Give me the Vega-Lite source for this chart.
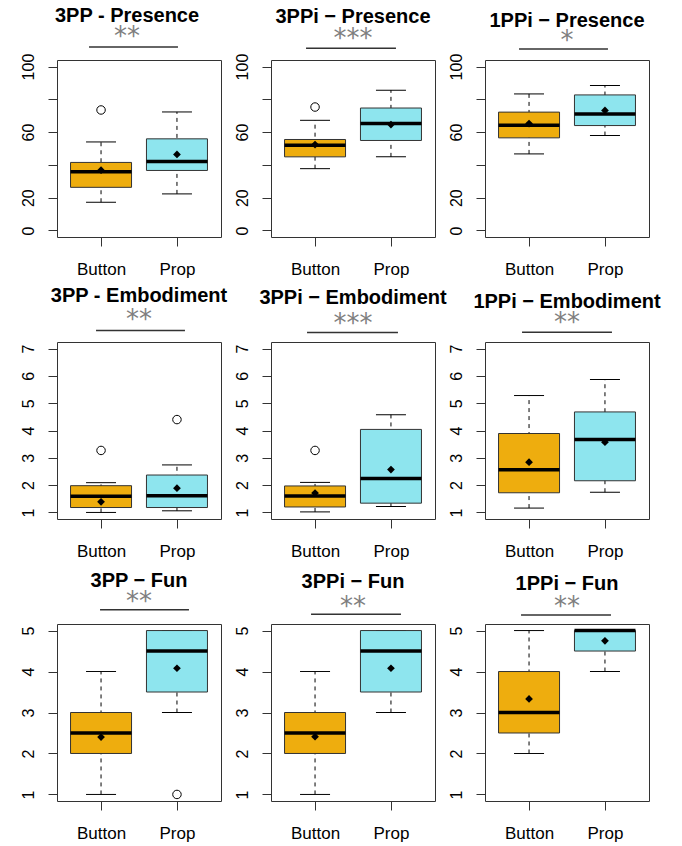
{
"$schema": "https://vega.github.io/schema/vega-lite/v6.json",
"background": "white",
"padding": {"left": 19, "top": 5, "right": 5, "bottom": 5},
"datasets": {"d": [
{"kind":"box","panel":"P1","group":"Button","lo":17.2,"q1":26.3,"med":35.8,"q3":41.5,"hi":54.0,"mean":36.8},
{"kind":"box","panel":"P1","group":"Prop","lo":22.3,"q1":36.6,"med":42.1,"q3":55.9,"hi":72.3,"mean":46.4},
{"kind":"out","panel":"P1","group":"Button","value":73.5},
{"kind":"sig","panel":"P1","g1":"Button","g2":"Prop"},
{"kind":"box","panel":"P2","group":"Button","lo":37.7,"q1":44.9,"med":52.0,"q3":55.5,"hi":67.2,"mean":52.4},
{"kind":"box","panel":"P2","group":"Prop","lo":44.9,"q1":54.9,"med":65.2,"q3":74.7,"hi":85.6,"mean":64.6},
{"kind":"out","panel":"P2","group":"Button","value":75.3},
{"kind":"sig","panel":"P2","g1":"Button","g2":"Prop"},
{"kind":"box","panel":"P3","group":"Button","lo":46.7,"q1":56.5,"med":64.2,"q3":72.2,"hi":83.3,"mean":65.2},
{"kind":"box","panel":"P3","group":"Prop","lo":57.9,"q1":64.0,"med":71.1,"q3":82.7,"hi":88.4,"mean":73.2},
{"kind":"sig","panel":"P3","g1":"Button","g2":"Prop"},
{"kind":"box","panel":"P4","group":"Button","lo":1.0,"q1":1.18,"med":1.59,"q3":1.98,"hi":2.09,"mean":1.39},
{"kind":"box","panel":"P4","group":"Prop","lo":1.06,"q1":1.18,"med":1.61,"q3":2.37,"hi":2.74,"mean":1.89},
{"kind":"out","panel":"P4","group":"Button","value":3.27},
{"kind":"out","panel":"P4","group":"Prop","value":4.40},
{"kind":"sig","panel":"P4","g1":"Button","g2":"Prop"},
{"kind":"box","panel":"P5","group":"Button","lo":1.02,"q1":1.2,"med":1.6,"q3":1.97,"hi":2.1,"mean":1.71},
{"kind":"box","panel":"P5","group":"Prop","lo":1.22,"q1":1.34,"med":2.24,"q3":4.04,"hi":4.58,"mean":2.57},
{"kind":"out","panel":"P5","group":"Button","value":3.27},
{"kind":"sig","panel":"P5","g1":"Button","g2":"Prop"},
{"kind":"box","panel":"P6","group":"Button","lo":1.16,"q1":1.72,"med":2.56,"q3":3.89,"hi":5.28,"mean":2.84},
{"kind":"box","panel":"P6","group":"Prop","lo":1.74,"q1":2.16,"med":3.67,"q3":4.68,"hi":5.87,"mean":3.57},
{"kind":"sig","panel":"P6","g1":"Button","g2":"Prop"},
{"kind":"box","panel":"P7","group":"Button","lo":1,"q1":2,"med":2.5,"q3":3,"hi":4,"mean":2.4},
{"kind":"box","panel":"P7","group":"Prop","lo":3,"q1":3.5,"med":4.5,"q3":5,"hi":5,"mean":4.08},
{"kind":"out","panel":"P7","group":"Prop","value":1},
{"kind":"sig","panel":"P7","g1":"Button","g2":"Prop"},
{"kind":"box","panel":"P8","group":"Button","lo":1,"q1":2,"med":2.5,"q3":3,"hi":4,"mean":2.41},
{"kind":"box","panel":"P8","group":"Prop","lo":3,"q1":3.5,"med":4.5,"q3":5,"hi":5,"mean":4.08},
{"kind":"sig","panel":"P8","g1":"Button","g2":"Prop"},
{"kind":"box","panel":"P9","group":"Button","lo":2,"q1":2.5,"med":3,"q3":4,"hi":5,"mean":3.33},
{"kind":"box","panel":"P9","group":"Prop","lo":4,"q1":4.5,"med":5,"q3":5,"hi":5,"mean":4.75},
{"kind":"sig","panel":"P9","g1":"Button","g2":"Prop"}
]},
"data": {"name": "d"},
"columns": 3,
"spacing": {"row": 105, "column": 50},
"bounds": "flush",
"concat": [
{"width":164,"height":177,
 "title":{"text":"3PP - Presence","subtitle":"**","dx":-12,"offset":-4,"subtitlePadding":-2},
 "transform":[{"filter":"datum.panel==='P1'"}],
 "encoding":{"x":{"field":"group","type":"nominal","scale":{"type":"point","domain":["Button","Prop"],"padding":0.58},"axis":{"title":null}}},
 "layer":[
  {"transform":[{"filter":"datum.kind==='box'"}],"mark":{"type":"rule","strokeDash":[4,4],"color":"black"},"encoding":{"y":{"field":"lo","type":"quantitative","scale":{"domain":[-4,104],"nice":false,"zero":false},"axis":{"title":null,"format":"d","labelOverlap":false,"tickCount":12,"values":[0,20,40,60,80,100],"labelExpr":"datum.value==40||datum.value==80?'':datum.label"}},"y2":{"field":"hi"}}},
  {"transform":[{"filter":"datum.kind==='box'"}],"mark":{"type":"tick","size":30,"thickness":1,"color":"black","opacity":1},"encoding":{"y":{"field":"lo","type":"quantitative","title":null}}},
  {"transform":[{"filter":"datum.kind==='box'"}],"mark":{"type":"tick","size":30,"thickness":1,"color":"black","opacity":1},"encoding":{"y":{"field":"hi","type":"quantitative","title":null}}},
  {"transform":[{"filter":"datum.kind==='box'"}],"mark":{"type":"bar","size":61,"stroke":"#333","strokeWidth":1,"opacity":1},"encoding":{"y":{"field":"q1","type":"quantitative","title":null},"y2":{"field":"q3"},"fill":{"field":"group","type":"nominal","scale":{"domain":["Button","Prop"],"range":["#EEAD0E","#8EE5EE"]},"legend":null}}},
  {"transform":[{"filter":"datum.kind==='box'"}],"mark":{"type":"tick","size":61,"thickness":3.5,"color":"black","opacity":1},"encoding":{"y":{"field":"med","type":"quantitative","title":null}}},
  {"transform":[{"filter":"datum.kind==='box'"}],"mark":{"type":"point","shape":"diamond","filled":true,"size":60,"color":"black","opacity":1},"encoding":{"y":{"field":"mean","type":"quantitative","title":null}}},
  {"transform":[{"filter":"datum.kind==='out'"}],"mark":{"type":"point","shape":"circle","filled":false,"size":72,"color":"black","strokeWidth":1,"opacity":1},"encoding":{"y":{"field":"value","type":"quantitative","title":null}}},
  {"transform":[{"filter":"datum.kind==='sig'"}],"mark":{"type":"rule","color":"#333","strokeWidth":1.5,"xOffset":-12,"x2Offset":1},"encoding":{"x":{"field":"g1","type":"nominal","title":null},"x2":{"field":"g2"},"y":{"datum":111.9}}}
 ]},
{"width":164,"height":177,
 "title":{"text":"3PPi − Presence","subtitle":"***","offset":-4,"subtitlePadding":-1},
 "transform":[{"filter":"datum.panel==='P2'"}],
 "encoding":{"x":{"field":"group","type":"nominal","scale":{"type":"point","domain":["Button","Prop"],"padding":0.58},"axis":{"title":null}}},
 "layer":[
  {"transform":[{"filter":"datum.kind==='box'"}],"mark":{"type":"rule","strokeDash":[4,4],"color":"black"},"encoding":{"y":{"field":"lo","type":"quantitative","scale":{"domain":[-4,104],"nice":false,"zero":false},"axis":{"title":null,"format":"d","labelOverlap":false,"tickCount":12,"values":[0,20,40,60,80,100],"labelExpr":"datum.value==40||datum.value==80?'':datum.label"}},"y2":{"field":"hi"}}},
  {"transform":[{"filter":"datum.kind==='box'"}],"mark":{"type":"tick","size":30,"thickness":1,"color":"black","opacity":1},"encoding":{"y":{"field":"lo","type":"quantitative","title":null}}},
  {"transform":[{"filter":"datum.kind==='box'"}],"mark":{"type":"tick","size":30,"thickness":1,"color":"black","opacity":1},"encoding":{"y":{"field":"hi","type":"quantitative","title":null}}},
  {"transform":[{"filter":"datum.kind==='box'"}],"mark":{"type":"bar","size":61,"stroke":"#333","strokeWidth":1,"opacity":1},"encoding":{"y":{"field":"q1","type":"quantitative","title":null},"y2":{"field":"q3"},"fill":{"field":"group","type":"nominal","scale":{"domain":["Button","Prop"],"range":["#EEAD0E","#8EE5EE"]},"legend":null}}},
  {"transform":[{"filter":"datum.kind==='box'"}],"mark":{"type":"tick","size":61,"thickness":3.5,"color":"black","opacity":1},"encoding":{"y":{"field":"med","type":"quantitative","title":null}}},
  {"transform":[{"filter":"datum.kind==='box'"}],"mark":{"type":"point","shape":"diamond","filled":true,"size":60,"color":"black","opacity":1},"encoding":{"y":{"field":"mean","type":"quantitative","title":null}}},
  {"transform":[{"filter":"datum.kind==='out'"}],"mark":{"type":"point","shape":"circle","filled":false,"size":72,"color":"black","strokeWidth":1,"opacity":1},"encoding":{"y":{"field":"value","type":"quantitative","title":null}}},
  {"transform":[{"filter":"datum.kind==='sig'"}],"mark":{"type":"rule","color":"#333","strokeWidth":1.5,"xOffset":-9,"x2Offset":5},"encoding":{"x":{"field":"g1","type":"nominal","title":null},"x2":{"field":"g2"},"y":{"datum":111.1}}}
 ]},
{"width":164,"height":177,
 "title":{"text":"1PPi − Presence","subtitle":"*","offset":-6,"subtitlePadding":-3},
 "transform":[{"filter":"datum.panel==='P3'"}],
 "encoding":{"x":{"field":"group","type":"nominal","scale":{"type":"point","domain":["Button","Prop"],"padding":0.58},"axis":{"title":null}}},
 "layer":[
  {"transform":[{"filter":"datum.kind==='box'"}],"mark":{"type":"rule","strokeDash":[4,4],"color":"black"},"encoding":{"y":{"field":"lo","type":"quantitative","scale":{"domain":[-4,104],"nice":false,"zero":false},"axis":{"title":null,"format":"d","labelOverlap":false,"tickCount":12,"values":[0,20,40,60,80,100],"labelExpr":"datum.value==40||datum.value==80?'':datum.label"}},"y2":{"field":"hi"}}},
  {"transform":[{"filter":"datum.kind==='box'"}],"mark":{"type":"tick","size":30,"thickness":1,"color":"black","opacity":1},"encoding":{"y":{"field":"lo","type":"quantitative","title":null}}},
  {"transform":[{"filter":"datum.kind==='box'"}],"mark":{"type":"tick","size":30,"thickness":1,"color":"black","opacity":1},"encoding":{"y":{"field":"hi","type":"quantitative","title":null}}},
  {"transform":[{"filter":"datum.kind==='box'"}],"mark":{"type":"bar","size":61,"stroke":"#333","strokeWidth":1,"opacity":1},"encoding":{"y":{"field":"q1","type":"quantitative","title":null},"y2":{"field":"q3"},"fill":{"field":"group","type":"nominal","scale":{"domain":["Button","Prop"],"range":["#EEAD0E","#8EE5EE"]},"legend":null}}},
  {"transform":[{"filter":"datum.kind==='box'"}],"mark":{"type":"tick","size":61,"thickness":3.5,"color":"black","opacity":1},"encoding":{"y":{"field":"med","type":"quantitative","title":null}}},
  {"transform":[{"filter":"datum.kind==='box'"}],"mark":{"type":"point","shape":"diamond","filled":true,"size":60,"color":"black","opacity":1},"encoding":{"y":{"field":"mean","type":"quantitative","title":null}}},
  {"transform":[{"filter":"datum.kind==='sig'"}],"mark":{"type":"rule","color":"#333","strokeWidth":1.5,"xOffset":-10,"x2Offset":3},"encoding":{"x":{"field":"g1","type":"nominal","title":null},"x2":{"field":"g2"},"y":{"datum":110.7}}}
 ]},
{"width":164,"height":177,
 "title":{"text":"3PP - Embodiment","subtitle":"**","offset":-3,"subtitlePadding":1},
 "transform":[{"filter":"datum.panel==='P4'"}],
 "encoding":{"x":{"field":"group","type":"nominal","scale":{"type":"point","domain":["Button","Prop"],"padding":0.58},"axis":{"title":null}}},
 "layer":[
  {"transform":[{"filter":"datum.kind==='box'"}],"mark":{"type":"rule","strokeDash":[4,4],"color":"black"},"encoding":{"y":{"field":"lo","type":"quantitative","scale":{"domain":[0.76,7.24],"nice":false,"zero":false},"axis":{"title":null,"format":"d","labelOverlap":false,"tickCount":12,"values":[1,2,3,4,5,6,7]}},"y2":{"field":"hi"}}},
  {"transform":[{"filter":"datum.kind==='box'"}],"mark":{"type":"tick","size":30,"thickness":1,"color":"black","opacity":1},"encoding":{"y":{"field":"lo","type":"quantitative","title":null}}},
  {"transform":[{"filter":"datum.kind==='box'"}],"mark":{"type":"tick","size":30,"thickness":1,"color":"black","opacity":1},"encoding":{"y":{"field":"hi","type":"quantitative","title":null}}},
  {"transform":[{"filter":"datum.kind==='box'"}],"mark":{"type":"bar","size":61,"stroke":"#333","strokeWidth":1,"opacity":1},"encoding":{"y":{"field":"q1","type":"quantitative","title":null},"y2":{"field":"q3"},"fill":{"field":"group","type":"nominal","scale":{"domain":["Button","Prop"],"range":["#EEAD0E","#8EE5EE"]},"legend":null}}},
  {"transform":[{"filter":"datum.kind==='box'"}],"mark":{"type":"tick","size":61,"thickness":3.5,"color":"black","opacity":1},"encoding":{"y":{"field":"med","type":"quantitative","title":null}}},
  {"transform":[{"filter":"datum.kind==='box'"}],"mark":{"type":"point","shape":"diamond","filled":true,"size":60,"color":"black","opacity":1},"encoding":{"y":{"field":"mean","type":"quantitative","title":null}}},
  {"transform":[{"filter":"datum.kind==='out'"}],"mark":{"type":"point","shape":"circle","filled":false,"size":72,"color":"black","strokeWidth":1,"opacity":1},"encoding":{"y":{"field":"value","type":"quantitative","title":null}}},
  {"transform":[{"filter":"datum.kind==='sig'"}],"mark":{"type":"rule","color":"#333","strokeWidth":1.5,"xOffset":-5,"x2Offset":8},"encoding":{"x":{"field":"g1","type":"nominal","title":null},"x2":{"field":"g2"},"y":{"datum":7.66}}}
 ]},
{"width":164,"height":177,
 "title":{"text":"3PPi − Embodiment","subtitle":"***","offset":-5,"subtitlePadding":3},
 "transform":[{"filter":"datum.panel==='P5'"}],
 "encoding":{"x":{"field":"group","type":"nominal","scale":{"type":"point","domain":["Button","Prop"],"padding":0.58},"axis":{"title":null}}},
 "layer":[
  {"transform":[{"filter":"datum.kind==='box'"}],"mark":{"type":"rule","strokeDash":[4,4],"color":"black"},"encoding":{"y":{"field":"lo","type":"quantitative","scale":{"domain":[0.76,7.24],"nice":false,"zero":false},"axis":{"title":null,"format":"d","labelOverlap":false,"tickCount":12,"values":[1,2,3,4,5,6,7]}},"y2":{"field":"hi"}}},
  {"transform":[{"filter":"datum.kind==='box'"}],"mark":{"type":"tick","size":30,"thickness":1,"color":"black","opacity":1},"encoding":{"y":{"field":"lo","type":"quantitative","title":null}}},
  {"transform":[{"filter":"datum.kind==='box'"}],"mark":{"type":"tick","size":30,"thickness":1,"color":"black","opacity":1},"encoding":{"y":{"field":"hi","type":"quantitative","title":null}}},
  {"transform":[{"filter":"datum.kind==='box'"}],"mark":{"type":"bar","size":61,"stroke":"#333","strokeWidth":1,"opacity":1},"encoding":{"y":{"field":"q1","type":"quantitative","title":null},"y2":{"field":"q3"},"fill":{"field":"group","type":"nominal","scale":{"domain":["Button","Prop"],"range":["#EEAD0E","#8EE5EE"]},"legend":null}}},
  {"transform":[{"filter":"datum.kind==='box'"}],"mark":{"type":"tick","size":61,"thickness":3.5,"color":"black","opacity":1},"encoding":{"y":{"field":"med","type":"quantitative","title":null}}},
  {"transform":[{"filter":"datum.kind==='box'"}],"mark":{"type":"point","shape":"diamond","filled":true,"size":60,"color":"black","opacity":1},"encoding":{"y":{"field":"mean","type":"quantitative","title":null}}},
  {"transform":[{"filter":"datum.kind==='out'"}],"mark":{"type":"point","shape":"circle","filled":false,"size":72,"color":"black","strokeWidth":1,"opacity":1},"encoding":{"y":{"field":"value","type":"quantitative","title":null}}},
  {"transform":[{"filter":"datum.kind==='sig'"}],"mark":{"type":"rule","color":"#333","strokeWidth":1.5,"xOffset":-8,"x2Offset":7},"encoding":{"x":{"field":"g1","type":"nominal","title":null},"x2":{"field":"g2"},"y":{"datum":7.59}}}
 ]},
{"width":164,"height":177,
 "title":{"text":"1PPi − Embodiment","subtitle":"**","offset":-5,"subtitlePadding":-2},
 "transform":[{"filter":"datum.panel==='P6'"}],
 "encoding":{"x":{"field":"group","type":"nominal","scale":{"type":"point","domain":["Button","Prop"],"padding":0.58},"axis":{"title":null}}},
 "layer":[
  {"transform":[{"filter":"datum.kind==='box'"}],"mark":{"type":"rule","strokeDash":[4,4],"color":"black"},"encoding":{"y":{"field":"lo","type":"quantitative","scale":{"domain":[0.76,7.24],"nice":false,"zero":false},"axis":{"title":null,"format":"d","labelOverlap":false,"tickCount":12,"values":[1,2,3,4,5,6,7]}},"y2":{"field":"hi"}}},
  {"transform":[{"filter":"datum.kind==='box'"}],"mark":{"type":"tick","size":30,"thickness":1,"color":"black","opacity":1},"encoding":{"y":{"field":"lo","type":"quantitative","title":null}}},
  {"transform":[{"filter":"datum.kind==='box'"}],"mark":{"type":"tick","size":30,"thickness":1,"color":"black","opacity":1},"encoding":{"y":{"field":"hi","type":"quantitative","title":null}}},
  {"transform":[{"filter":"datum.kind==='box'"}],"mark":{"type":"bar","size":61,"stroke":"#333","strokeWidth":1,"opacity":1},"encoding":{"y":{"field":"q1","type":"quantitative","title":null},"y2":{"field":"q3"},"fill":{"field":"group","type":"nominal","scale":{"domain":["Button","Prop"],"range":["#EEAD0E","#8EE5EE"]},"legend":null}}},
  {"transform":[{"filter":"datum.kind==='box'"}],"mark":{"type":"tick","size":61,"thickness":3.5,"color":"black","opacity":1},"encoding":{"y":{"field":"med","type":"quantitative","title":null}}},
  {"transform":[{"filter":"datum.kind==='box'"}],"mark":{"type":"point","shape":"diamond","filled":true,"size":60,"color":"black","opacity":1},"encoding":{"y":{"field":"mean","type":"quantitative","title":null}}},
  {"transform":[{"filter":"datum.kind==='sig'"}],"mark":{"type":"rule","color":"#333","strokeWidth":1.5,"xOffset":-7,"x2Offset":7},"encoding":{"x":{"field":"g1","type":"nominal","title":null},"x2":{"field":"g2"},"y":{"datum":7.6}}}
 ]},
{"width":164,"height":177,
 "title":{"text":"3PP − Fun","subtitle":"**","offset":-6,"subtitlePadding":-2},
 "transform":[{"filter":"datum.panel==='P7'"}],
 "encoding":{"x":{"field":"group","type":"nominal","scale":{"type":"point","domain":["Button","Prop"],"padding":0.58},"axis":{"title":null}}},
 "layer":[
  {"transform":[{"filter":"datum.kind==='box'"}],"mark":{"type":"rule","strokeDash":[4,4],"color":"black"},"encoding":{"y":{"field":"lo","type":"quantitative","scale":{"domain":[0.84,5.16],"nice":false,"zero":false},"axis":{"title":null,"format":"d","labelOverlap":false,"tickCount":12,"values":[1,2,3,4,5]}},"y2":{"field":"hi"}}},
  {"transform":[{"filter":"datum.kind==='box'"}],"mark":{"type":"tick","size":30,"thickness":1,"color":"black","opacity":1},"encoding":{"y":{"field":"lo","type":"quantitative","title":null}}},
  {"transform":[{"filter":"datum.kind==='box'"}],"mark":{"type":"tick","size":30,"thickness":1,"color":"black","opacity":1},"encoding":{"y":{"field":"hi","type":"quantitative","title":null}}},
  {"transform":[{"filter":"datum.kind==='box'"}],"mark":{"type":"bar","size":61,"stroke":"#333","strokeWidth":1,"opacity":1},"encoding":{"y":{"field":"q1","type":"quantitative","title":null},"y2":{"field":"q3"},"fill":{"field":"group","type":"nominal","scale":{"domain":["Button","Prop"],"range":["#EEAD0E","#8EE5EE"]},"legend":null}}},
  {"transform":[{"filter":"datum.kind==='box'"}],"mark":{"type":"tick","size":61,"thickness":3.5,"color":"black","opacity":1},"encoding":{"y":{"field":"med","type":"quantitative","title":null}}},
  {"transform":[{"filter":"datum.kind==='box'"}],"mark":{"type":"point","shape":"diamond","filled":true,"size":60,"color":"black","opacity":1},"encoding":{"y":{"field":"mean","type":"quantitative","title":null}}},
  {"transform":[{"filter":"datum.kind==='out'"}],"mark":{"type":"point","shape":"circle","filled":false,"size":72,"color":"black","strokeWidth":1,"opacity":1},"encoding":{"y":{"field":"value","type":"quantitative","title":null}}},
  {"transform":[{"filter":"datum.kind==='sig'"}],"mark":{"type":"rule","color":"#333","strokeWidth":1.5,"xOffset":-1,"x2Offset":12},"encoding":{"x":{"field":"g1","type":"nominal","title":null},"x2":{"field":"g2"},"y":{"datum":5.51}}}
 ]},
{"width":164,"height":177,
 "title":{"text":"3PPi − Fun","subtitle":"**","offset":-7,"subtitlePadding":2},
 "transform":[{"filter":"datum.panel==='P8'"}],
 "encoding":{"x":{"field":"group","type":"nominal","scale":{"type":"point","domain":["Button","Prop"],"padding":0.58},"axis":{"title":null}}},
 "layer":[
  {"transform":[{"filter":"datum.kind==='box'"}],"mark":{"type":"rule","strokeDash":[4,4],"color":"black"},"encoding":{"y":{"field":"lo","type":"quantitative","scale":{"domain":[0.84,5.16],"nice":false,"zero":false},"axis":{"title":null,"format":"d","labelOverlap":false,"tickCount":12,"values":[1,2,3,4,5]}},"y2":{"field":"hi"}}},
  {"transform":[{"filter":"datum.kind==='box'"}],"mark":{"type":"tick","size":30,"thickness":1,"color":"black","opacity":1},"encoding":{"y":{"field":"lo","type":"quantitative","title":null}}},
  {"transform":[{"filter":"datum.kind==='box'"}],"mark":{"type":"tick","size":30,"thickness":1,"color":"black","opacity":1},"encoding":{"y":{"field":"hi","type":"quantitative","title":null}}},
  {"transform":[{"filter":"datum.kind==='box'"}],"mark":{"type":"bar","size":61,"stroke":"#333","strokeWidth":1,"opacity":1},"encoding":{"y":{"field":"q1","type":"quantitative","title":null},"y2":{"field":"q3"},"fill":{"field":"group","type":"nominal","scale":{"domain":["Button","Prop"],"range":["#EEAD0E","#8EE5EE"]},"legend":null}}},
  {"transform":[{"filter":"datum.kind==='box'"}],"mark":{"type":"tick","size":61,"thickness":3.5,"color":"black","opacity":1},"encoding":{"y":{"field":"med","type":"quantitative","title":null}}},
  {"transform":[{"filter":"datum.kind==='box'"}],"mark":{"type":"point","shape":"diamond","filled":true,"size":60,"color":"black","opacity":1},"encoding":{"y":{"field":"mean","type":"quantitative","title":null}}},
  {"transform":[{"filter":"datum.kind==='sig'"}],"mark":{"type":"rule","color":"#333","strokeWidth":1.5,"xOffset":-4,"x2Offset":10},"encoding":{"x":{"field":"g1","type":"nominal","title":null},"x2":{"field":"g2"},"y":{"datum":5.40}}}
 ]},
{"width":164,"height":177,
 "title":{"text":"1PPi − Fun","subtitle":"**","offset":-6,"subtitlePadding":0},
 "transform":[{"filter":"datum.panel==='P9'"}],
 "encoding":{"x":{"field":"group","type":"nominal","scale":{"type":"point","domain":["Button","Prop"],"padding":0.58},"axis":{"title":null}}},
 "layer":[
  {"transform":[{"filter":"datum.kind==='box'"}],"mark":{"type":"rule","strokeDash":[4,4],"color":"black"},"encoding":{"y":{"field":"lo","type":"quantitative","scale":{"domain":[0.84,5.16],"nice":false,"zero":false},"axis":{"title":null,"format":"d","labelOverlap":false,"tickCount":12,"values":[1,2,3,4,5]}},"y2":{"field":"hi"}}},
  {"transform":[{"filter":"datum.kind==='box'"}],"mark":{"type":"tick","size":30,"thickness":1,"color":"black","opacity":1},"encoding":{"y":{"field":"lo","type":"quantitative","title":null}}},
  {"transform":[{"filter":"datum.kind==='box'"}],"mark":{"type":"tick","size":30,"thickness":1,"color":"black","opacity":1},"encoding":{"y":{"field":"hi","type":"quantitative","title":null}}},
  {"transform":[{"filter":"datum.kind==='box'"}],"mark":{"type":"bar","size":61,"stroke":"#333","strokeWidth":1,"opacity":1},"encoding":{"y":{"field":"q1","type":"quantitative","title":null},"y2":{"field":"q3"},"fill":{"field":"group","type":"nominal","scale":{"domain":["Button","Prop"],"range":["#EEAD0E","#8EE5EE"]},"legend":null}}},
  {"transform":[{"filter":"datum.kind==='box'"}],"mark":{"type":"tick","size":61,"thickness":3.5,"color":"black","opacity":1},"encoding":{"y":{"field":"med","type":"quantitative","title":null}}},
  {"transform":[{"filter":"datum.kind==='box'"}],"mark":{"type":"point","shape":"diamond","filled":true,"size":60,"color":"black","opacity":1},"encoding":{"y":{"field":"mean","type":"quantitative","title":null}}},
  {"transform":[{"filter":"datum.kind==='sig'"}],"mark":{"type":"rule","color":"#333","strokeWidth":1.5,"xOffset":-8,"x2Offset":6},"encoding":{"x":{"field":"g1","type":"nominal","title":null},"x2":{"field":"g2"},"y":{"datum":5.38}}}
 ]}
],
"config": {
 "view": {"stroke": "#333", "strokeWidth": 1},
 "font": "Liberation Sans",
 "axis": {"domain": false, "grid": false, "tickColor": "#333", "tickSize": 9, "labelColor": "black", "labelFont": "Liberation Sans"},
 "axisX": {"labelFontSize": 17, "labelPadding": 15, "labelAngle": 0},
 "axisY": {"labelFontSize": 16, "labelAngle": -90, "labelAlign": "center", "labelBaseline": "bottom", "labelPadding": 12},
 "title": {"font": "Liberation Sans", "fontSize": 20, "fontWeight": "bold", "color": "black", "anchor": "middle", "frame": "group", "subtitleFont": "DejaVu Sans", "subtitleFontSize": 26, "subtitleColor": "#7f7f7f"}
}
}
